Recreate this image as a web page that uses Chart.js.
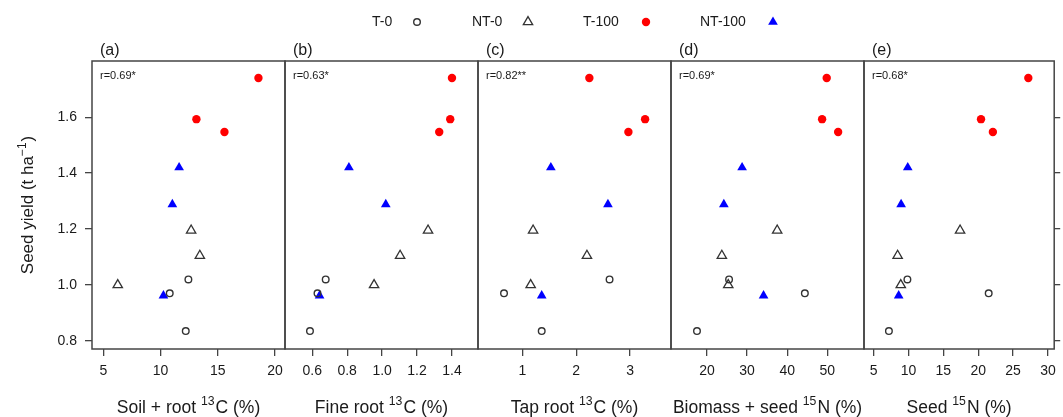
<!DOCTYPE html>
<html>
<head>
<meta charset="utf-8">
<script src="https://cdn.jsdelivr.net/npm/chart.js"></script>
<style>
  html, body { margin: 0; padding: 0; background: #fff; }
  #wrap { position: relative; width: 1063px; height: 417px; }
  #wrap canvas { position: absolute; left: 0; top: 0; }
</style>
</head>
<body>
<div id="wrap">
  <canvas id="p0" width="1063" height="417"></canvas>
  <canvas id="p1" width="1063" height="417"></canvas>
  <canvas id="p2" width="1063" height="417"></canvas>
  <canvas id="p3" width="1063" height="417"></canvas>
  <canvas id="p4" width="1063" height="417"></canvas>
</div>
<script>
// ---- data ----
const treatments = ['T-0', 'NT-0', 'T-100', 'NT-100'];

// seed yield (t/ha), same three plots per treatment in every panel
const yieldT0 = [1.02, 0.97, 0.835];
const yieldNT0 = [1.195, 1.105, 1.0];
const yieldT100 = [1.74, 1.593, 1.547];
const yieldNT100 = [1.42, 1.288, 0.962];

// (a) soil + root 13C (%)
const soilRootT0 = [12.43, 10.8, 12.2];
const soilRootNT0 = [12.67, 13.43, 6.26];
const soilRootT100 = [18.55, 13.13, 15.58];
const soilRootNT100 = [11.62, 11.03, 10.25];

// (b) fine root 13C (%)
const fineRootT0 = [0.677, 0.63, 0.587];
const fineRootNT0 = [1.263, 1.103, 0.954];
const fineRootT100 = [1.40, 1.39, 1.327];
const fineRootNT100 = [0.81, 1.021, 0.642];

// (c) tap root 13C (%)
const tapRootT0 = [2.62, 0.66, 1.36];
const tapRootNT0 = [1.2, 2.2, 1.155];
const tapRootT100 = [2.245, 3.28, 2.97];
const tapRootNT100 = [1.53, 2.59, 1.36];

// (d) biomass + seed 15N (%)
const biomassSeedT0 = [25.5, 44.4, 17.5];
const biomassSeedNT0 = [37.5, 23.7, 25.3];
const biomassSeedT100 = [49.85, 48.7, 52.7];
const biomassSeedNT100 = [28.75, 24.2, 34.1];

// (e) seed 15N (%)
const seedNT0 = [9.85, 21.5, 7.2];
const seedNNT0 = [17.4, 8.45, 8.9];
const seedNT100 = [27.18, 20.4, 22.1];
const seedNNT100 = [9.9, 8.95, 8.6];

const panelLabels = ['(a)', '(b)', '(c)', '(d)', '(e)'];
const corrLabels = ['r=0.69*', 'r=0.63*', 'r=0.82**', 'r=0.69*', 'r=0.68*'];
// axis titles as [text, superscript, text]
const xTitles = [
  ['Soil + root ', '13', 'C (%)'],
  ['Fine root ', '13', 'C (%)'],
  ['Tap root ', '13', 'C (%)'],
  ['Biomass + seed ', '15', 'N (%)'],
  ['Seed ', '15', 'N (%)']
];
const yTitle = ['Seed yield (t ha', '\u22121', ')'];

const yTicks = [0.8, 1.0, 1.2, 1.4, 1.6];
const xTicksA = [5, 10, 15, 20];
const xTicksB = [0.6, 0.8, 1.0, 1.2, 1.4];
const xTicksC = [1, 2, 3];
const xTicksD = [20, 30, 40, 50];
const xTicksE = [5, 10, 15, 20, 25, 30];

// ---- assembled for the charts ----
const yields = [yieldT0, yieldNT0, yieldT100, yieldNT100];
const panelX = [
  [soilRootT0, soilRootNT0, soilRootT100, soilRootNT100],
  [fineRootT0, fineRootNT0, fineRootT100, fineRootNT100],
  [tapRootT0, tapRootNT0, tapRootT100, tapRootNT100],
  [biomassSeedT0, biomassSeedNT0, biomassSeedT100, biomassSeedNT100],
  [seedNT0, seedNNT0, seedNT100, seedNNT100]
];
const xTicks = [xTicksA, xTicksB, xTicksC, xTicksD, xTicksE];
const xDecimals = [0, 1, 0, 0, 0];
const xLimits = [[4.01, 20.87], [0.444, 1.549], [0.177, 3.761], [11.02, 59.15], [3.63, 30.89]];
const yLimits = [0.771, 1.801];

// ---- layout ----
const W = 1063, H = 417;
const edges = [92, 285, 478, 671, 864, 1057];
const plotTop = 61, xAxisH = 68;
const FONT = '"Liberation Sans", Arial, Helvetica, sans-serif';
const INK = '#1a1a1a';
const FRAME = '#444';
const TITLE_SIZE = 17.5;

Chart.defaults.font.family = FONT;
Chart.defaults.color = INK;

const markers = [
  { pointStyle: 'circle', radius: 3.3, borderWidth: 1.4, borderColor: '#333', backgroundColor: 'rgba(0,0,0,0)' },
  { pointStyle: 'triangle', radius: 5.4, borderWidth: 1.3, borderColor: '#333', backgroundColor: 'rgba(0,0,0,0)' },
  { pointStyle: 'circle', radius: 4.2, borderWidth: 0, borderColor: 'red', backgroundColor: 'red' },
  { pointStyle: 'triangle', radius: 5.6, borderWidth: 0, borderColor: 'blue', backgroundColor: 'blue' }
];
const legendTextX = [372, 472, 583, 700];
const legendMarkX = [417, 528, 646, 773];
const legendY = 22;

// text with one superscript in the middle, centred on (0,0) at baseline
function drawSupText(ctx, parts, size) {
  const big = size + 'px ' + FONT, small = (size * 0.7) + 'px ' + FONT;
  ctx.font = big;
  const w0 = ctx.measureText(parts[0]).width, w2 = ctx.measureText(parts[2]).width;
  ctx.font = small;
  const w1 = ctx.measureText(parts[1]).width + 1;
  let x = -(w0 + w1 + w2) / 2;
  ctx.textAlign = 'left';
  ctx.textBaseline = 'alphabetic';
  ctx.font = big;
  ctx.fillText(parts[0], x, 0);
  x += w0;
  ctx.font = small;
  ctx.fillText(parts[1], x, -size * 0.42);
  x += w1;
  ctx.font = big;
  ctx.fillText(parts[2], x, 0);
}

const framePlugin = {
  id: 'frame',
  afterDraw(chart, args, opts) {
    const { ctx, chartArea: a } = chart;
    ctx.save();
    ctx.strokeStyle = FRAME;
    ctx.lineWidth = 1.5;
    ctx.strokeRect(a.left, a.top, a.right - a.left, a.bottom - a.top);
    ctx.fillStyle = INK;
    ctx.textAlign = 'left';
    ctx.textBaseline = 'middle';
    ctx.font = '16px ' + FONT;
    ctx.fillText(opts.label, a.left + 8, 51);
    ctx.font = '11px ' + FONT;
    ctx.fillText(opts.corr, a.left + 8, a.top + 15);
    // x axis title
    ctx.save();
    ctx.translate((a.left + a.right) / 2, 412.5);
    drawSupText(ctx, opts.xTitle, TITLE_SIZE);
    ctx.restore();
    // y axis title on the first panel
    if (opts.yTitle) {
      ctx.save();
      ctx.translate(33, (a.top + a.bottom) / 2);
      ctx.rotate(-Math.PI / 2);
      drawSupText(ctx, opts.yTitle, 17);
      ctx.restore();
    }
    ctx.restore();
  }
};

const legendPlugin = {
  id: 'topLegend',
  afterDraw(chart) {
    const ctx = chart.ctx;
    ctx.save();
    ctx.font = '14px ' + FONT;
    ctx.textAlign = 'left';
    ctx.textBaseline = 'middle';
    treatments.forEach((name, k) => {
      ctx.fillStyle = INK;
      ctx.fillText(name, legendTextX[k], legendY);
      const m = markers[k];
      ctx.fillStyle = m.backgroundColor;
      ctx.strokeStyle = m.borderColor;
      ctx.lineWidth = m.borderWidth;
      Chart.helpers.drawPoint(ctx, { pointStyle: m.pointStyle, radius: m.radius, borderWidth: m.borderWidth, rotation: 0 },
        legendMarkX[k], legendY);
    });
    ctx.restore();
  }
};

function fixedTicks(values) {
  return scale => { scale.ticks = values.map(v => ({ value: v })); };
}

function makePanel(i) {
  const first = i === 0, last = i === 4;
  const datasets = treatments.map((name, k) => ({
    label: name,
    data: panelX[i][k].map((x, j) => ({ x: x, y: yields[k][j] })),
    pointStyle: markers[k].pointStyle,
    pointRadius: markers[k].radius,
    pointBorderWidth: markers[k].borderWidth,
    pointBorderColor: markers[k].borderColor,
    pointBackgroundColor: markers[k].backgroundColor
  }));

  const tickGrid = { drawOnChartArea: false, drawTicks: true, tickLength: 7, color: FRAME, lineWidth: 1.3 };

  const scales = {
    x: {
      type: 'linear',
      position: 'bottom',
      min: xLimits[i][0],
      max: xLimits[i][1],
      afterBuildTicks: fixedTicks(xTicks[i]),
      afterFit: s => { s.height = xAxisH; },
      grid: tickGrid,
      border: { display: false },
      ticks: { padding: 7, font: { size: 14 }, color: INK, maxRotation: 0,
               callback: v => Number(v).toFixed(xDecimals[i]) }
    },
    y: {
      type: 'linear',
      position: 'left',
      display: first,
      min: yLimits[0],
      max: yLimits[1],
      afterBuildTicks: fixedTicks(yTicks),
      afterFit: s => { s.width = first ? edges[0] : 0; },
      grid: tickGrid,
      border: { display: false },
      ticks: { padding: 8, font: { size: 14 }, color: INK, callback: v => Number(v).toFixed(1) }
    }
  };
  if (last) {
    scales.yRight = {
      type: 'linear',
      axis: 'y',
      position: 'right',
      min: yLimits[0],
      max: yLimits[1],
      afterBuildTicks: fixedTicks(yTicks),
      afterFit: s => { s.width = W - edges[5]; },
      grid: { drawOnChartArea: false, drawTicks: true, tickLength: 6, color: FRAME, lineWidth: 1.3 },
      border: { display: false },
      ticks: { display: false }
    };
  }

  new Chart(document.getElementById('p' + i), {
    type: 'scatter',
    data: { datasets: datasets },
    options: {
      responsive: false,
      animation: false,
      events: [],
      layout: {
        padding: {
          left: first ? 0 : edges[i],
          right: last ? 0 : W - edges[i + 1],
          top: plotTop,
          bottom: 0
        }
      },
      plugins: {
        legend: { display: false },
        tooltip: { enabled: false },
        frame: { label: panelLabels[i], corr: corrLabels[i], xTitle: xTitles[i], yTitle: first ? yTitle : null }
      },
      scales: scales
    },
    plugins: first ? [framePlugin, legendPlugin] : [framePlugin]
  });
}

for (let i = 0; i < 5; i++) makePanel(i);
</script>
</body>
</html>
